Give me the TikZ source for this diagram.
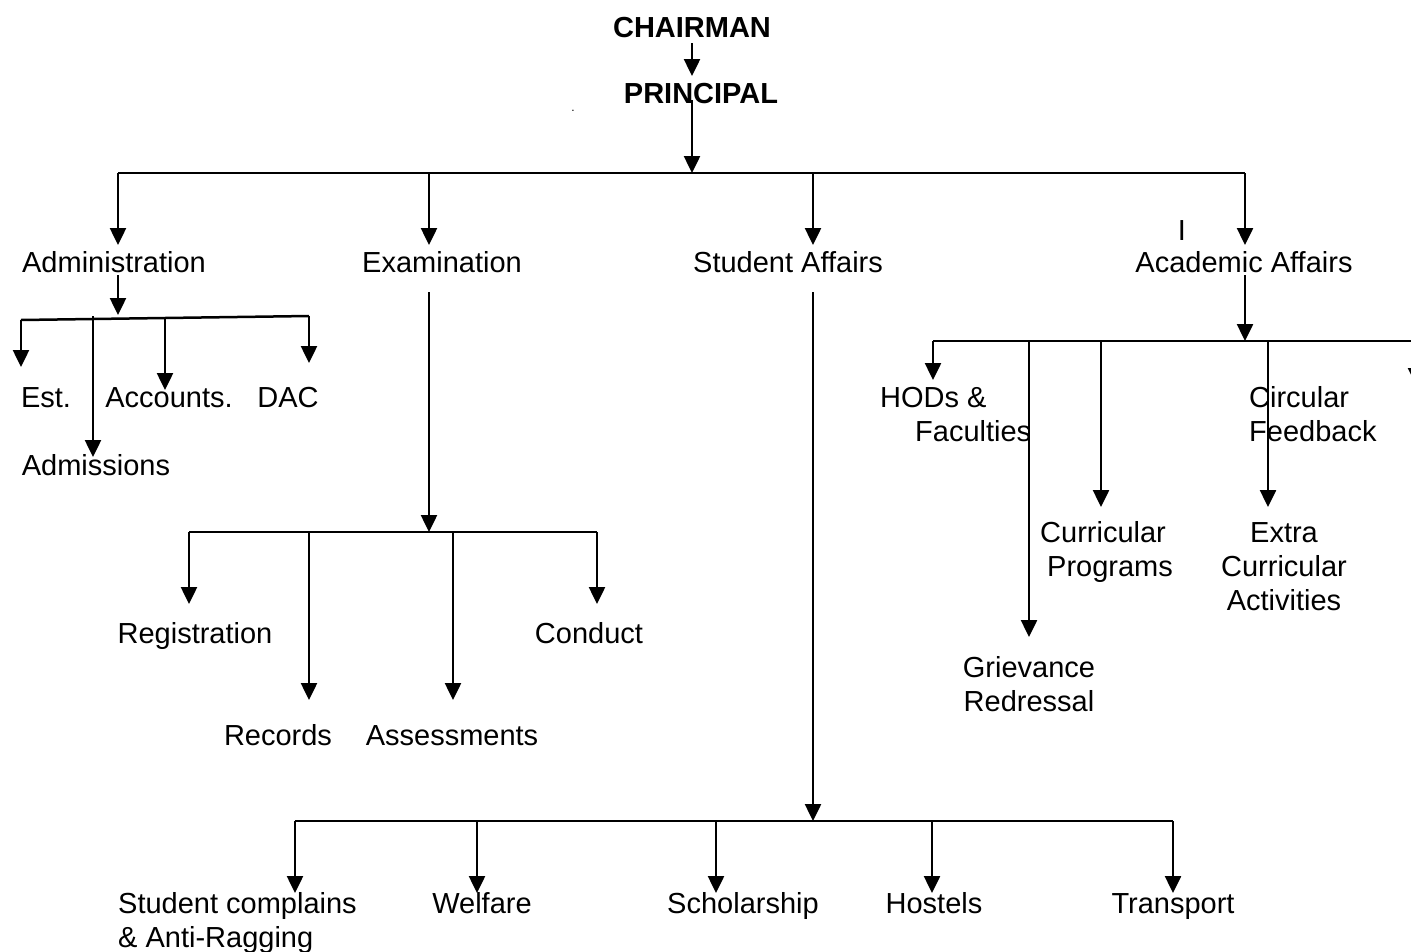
\documentclass[tikz,border=0pt]{standalone}
\usepackage{fontspec}
\setmainfont{Liberation Sans}
\usetikzlibrary{arrows.meta}
\tikzset{
  lbl/.style={font=\fontsize{29}{34}\selectfont, inner sep=0pt, anchor=base},
  lblw/.style={lbl, anchor=base west, align=left},
  lblc/.style={lbl, align=center},
  boldlbl/.style={lbl, font=\fontsize{29}{34}\selectfont\bfseries},
  ln/.style={line width=2.5pt},
  arr/.style={ln, -{Triangle[width=16pt,length=17pt]}}
}
\begin{document}
\begin{tikzpicture}[x=1pt,y=-1pt]
\clip (0,0) rectangle (1411,951);
\fill[white] (0,0) rectangle (1411,951);

% top nodes
\node[boldlbl] (chair) at (692,37) {CHAIRMAN};
\node[boldlbl] (princ) at (701,103) {PRINCIPAL};
\node[lbl, font=\fontsize{12}{14}\selectfont] (dot) at (573,111) {.};

\coordinate (chairS) at (692,43);
\coordinate (princN) at (692,76);
\coordinate (princS) at (692,100);
\coordinate (topbus) at (692,173);
\draw[arr] (chairS) -- (princN);
\draw[arr] (princS) -- (topbus);

% level 1
\draw[ln] (118,173) coordinate (tb1) -- (1245,173) coordinate (tb4);
\coordinate (tb2) at (429,173);
\coordinate (tb3) at (813,173);
\node[lbl] (admin) at (114,272) {Administration};
\node[lbl] (exam) at (442,272) {Examination};
\node[lbl] (stud) at (788,272) {Student Affairs};
\node[lbl] (acad) at (1244,272) {Academic Affairs};
\node[lbl] (stray) at (1182,240) {I};
\draw[arr] (tb1) -- (118,245);
\draw[arr] (tb2) -- (429,245);
\draw[arr] (tb3) -- (813,245);
\draw[arr] (tb4) -- (1245,245);

% administration
\coordinate (adS) at (118,275);
\coordinate (adbus) at (118,315);
\draw[arr] (adS) -- (adbus);
\draw[ln] (21,320) coordinate (ab1) -- (309,316) coordinate (ab4);
\coordinate (ab3) at (165,318);
\coordinate (ab2) at (93,316);
\node[lbl] (est) at (46,407) {Est.};
\node[lbl] (acc) at (169,407) {Accounts.};
\node[lbl] (dac) at (288,407) {DAC};
\node[lbl] (adm) at (96,475) {Admissions};
\draw[arr] (ab1) -- (21,367);
\draw[arr] (ab3) -- (165,390);
\draw[arr] (ab4) -- (309,363);
\draw[arr] (ab2) -- (93,457);

% examination
\coordinate (exS) at (429,292);
\coordinate (exbus) at (429,532);
\draw[arr] (exS) -- (exbus);
\draw[ln] (189,532) coordinate (eb1) -- (597,532) coordinate (eb4);
\coordinate (eb2) at (309,532);
\coordinate (eb3) at (453,532);
\node[lbl] (reg) at (195,643) {Registration};
\node[lbl] (cond) at (589,643) {Conduct};
\node[lbl] (rec) at (278,745) {Records};
\node[lbl] (ass) at (452,745) {Assessments};
\draw[arr] (eb1) -- (189,604);
\draw[arr] (eb2) -- (309,700);
\draw[arr] (eb3) -- (453,700);
\draw[arr] (eb4) -- (597,604);

% student affairs
\coordinate (stS) at (813,292);
\coordinate (stbus) at (813,821);
\draw[arr] (stS) -- (stbus);
\draw[ln] (295,821) coordinate (sb1) -- (1173,821) coordinate (sb5);
\coordinate (sb2) at (477,821);
\coordinate (sb3) at (716,821);
\coordinate (sb4) at (932,821);
\node[lblw] (comp) at (118,947) {Student complains\\\& Anti-Ragging};
\node[lbl] (welf) at (482,913) {Welfare};
\node[lbl] (schol) at (743,913) {Scholarship};
\node[lbl] (host) at (934,913) {Hostels};
\node[lbl] (trans) at (1173,913) {Transport};
\draw[arr] (sb1) -- (295,893);
\draw[arr] (sb2) -- (477,893);
\draw[arr] (sb3) -- (716,893);
\draw[arr] (sb4) -- (932,893);
\draw[arr] (sb5) -- (1173,893);

% academic affairs
\coordinate (acS) at (1245,275);
\coordinate (acbus) at (1245,341);
\draw[arr] (acS) -- (acbus);
\draw[ln] (933,341) coordinate (cb1) -- (1425,341) coordinate (cb6);
\coordinate (cb2) at (1029,341);
\coordinate (cb3) at (1101,341);
\coordinate (cb4) at (1268,341);
\coordinate (cb5) at (1416,341);
\node[lblw] (hod) at (880,441) {HODs \&\\\hspace*{35pt}Faculties};
\node[lblw] (circ) at (1249,441) {Circular\\Feedback};
\node[lblw] (curr) at (1040,576) {Curricular\\\hspace*{7pt}Programs};
\node[lblc] (extra) at (1284,610) {Extra\\Curricular\\Activities};
\node[lblc] (griev) at (1029,711) {Grievance\\Redressal};
\draw[arr] (cb1) -- (933,380);
\draw[arr] (cb2) -- (1029,637);
\draw[arr] (cb3) -- (1101,507);
\draw[arr] (cb4) -- (1268,507);
\draw[arr] (cb5) -- (1416,385);
\end{tikzpicture}
\end{document}
